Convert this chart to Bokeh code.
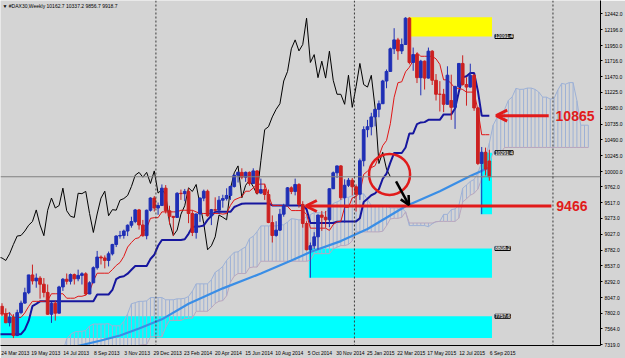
import datetime as dt
from bokeh.plotting import figure
from bokeh.models import (Range1d, FixedTicker, Span, Label, Arrow, OpenHead,
                          ColumnDataSource, NumeralTickFormatter)
from bokeh.embed import file_html
from bokeh.resources import INLINE

# ---------------- data ----------------
header_text = "\u25BC #DAX30,Weekly  10162.7 10337.2 9856.7 9918.7"
start_date = dt.date(2013, 3, 24)   # bar 0 (weekly bars)

# 62 weekly bars before the first visible bar (needed by the Ichimoku windows)
pre_high = [6420, 6540, 6790, 6860, 6870, 6980, 6960, 6940, 7194, 7150, 7080, 7000, 6830, 6850, 6810, 6800,
            6600, 6600, 6430, 6390, 6200, 6340, 6420, 6440, 6600, 6580, 6710, 6730, 6880, 6970, 7020, 7080,
            7000, 7240, 7420, 7480, 7390, 7430, 7400, 7460, 7350, 7400, 7420, 7180, 7330, 7430, 7560, 7620,
            7680, 7680, 7780, 7760, 7740, 7870, 7850, 7800, 7730, 7760, 7780, 8000, 8060, 8000]
pre_low = [6130, 6350, 6400, 6650, 6620, 6790, 6800, 6610, 6880, 6920, 6850, 6760, 6550, 6550, 6520, 6540,
           6420, 6240, 6210, 6030, 5920, 6060, 6160, 6080, 6390, 6380, 6520, 6320, 6620, 6830, 6880, 6900,
           6830, 6880, 7150, 7300, 7160, 7200, 7180, 7230, 7080, 7160, 7120, 6900, 6970, 7270, 7340, 7480,
           7560, 7600, 7600, 7650, 7630, 7690, 7700, 7530, 7590, 7570, 7560, 7680, 7920, 7880]

opens = [7912, 7795, 7658, 7744, 7459, 7814, 7962, 8123, 8398, 8306, 8349, 8254, 8127, 7789, 7959, 7806,
         8212, 8331, 8300, 8403, 8338, 8391, 8416, 8103, 8276, 8510, 8675, 8661, 8622, 8725, 8870, 9001,
         9009, 9078, 9168, 9225, 9405, 9172, 9006, 9400, 9589, 9435, 9473, 9742, 9392, 9306, 9289, 9663,
         9657, 9692, 9350, 9056, 9342, 9588, 9695, 9315, 9409, 9401, 9556, 9581, 9629, 9768, 9943, 9987,
         9912, 9987, 9815, 10009, 9666, 9720, 9644, 9210, 9009, 9092, 9339, 9470, 9747, 9691, 9799, 9490,
         9195, 8788, 8850, 8988, 9326, 9291, 9252, 9733, 9980, 10087, 9594, 9787, 9865, 9764, 9648, 10167,
         10649, 10694, 10846, 10963, 11050, 11402, 11550, 11901, 12039, 11868, 11967, 12375, 11689, 11811, 11454, 11709,
         11447, 11864, 11413, 11197, 11196, 11041, 11100, 10994, 11315, 11674, 11347, 11308, 11490, 10985, 10124, 10298,
         10162.7]
highs = [7960, 7880, 7820, 7790, 7860, 8000, 8200, 8400, 8558, 8420, 8380, 8350, 8250, 7980, 8000, 8230,
         8350, 8420, 8420, 8420, 8480, 8440, 8440, 8300, 8530, 8770, 8700, 8700, 8760, 8880, 9010, 9080,
         9100, 9180, 9300, 9420, 9420, 9250, 9410, 9600, 9620, 9520, 9800, 9790, 9470, 9310, 9680, 9720,
         9730, 9740, 9400, 9350, 9600, 9720, 9720, 9420, 9600, 9620, 9640, 9740, 9780, 9950, 10000, 10050,
         10000, 10000, 10050, 10020, 9890, 9810, 9720, 9320, 9230, 9420, 9500, 9760, 9770, 9890, 9820, 9540,
         9230, 8900, 9060, 9330, 9390, 9390, 9740, 10000, 10090, 10100, 9880, 9900, 9900, 9800, 10200, 10700,
         10800, 10910, 10970, 11100, 11420, 11580, 11920, 12220, 12070, 12060, 12390, 12390, 11920, 11840, 11730, 11720,
         11920, 11880, 11510, 11400, 11280, 11630, 11500, 11330, 11680, 11800, 11460, 11670, 11510, 11000, 10380, 10370,
         10337.2]
lows = [7760, 7650, 7600, 7420, 7450, 7790, 7950, 8100, 8250, 8200, 8030, 8050, 7780, 7655, 7690, 7800,
        8150, 8250, 8250, 8250, 8300, 8250, 8080, 8100, 8270, 8480, 8560, 8500, 8530, 8700, 8830, 8960,
        8960, 9000, 9130, 9200, 9100, 8990, 8950, 9380, 9380, 9330, 9470, 9350, 9180, 9000, 9280, 9560,
        9540, 9200, 9000, 8960, 9220, 9540, 9300, 9170, 9380, 9340, 9440, 9550, 9560, 9750, 9830, 9880,
        9840, 9780, 9810, 9660, 9650, 9560, 9200, 8900, 8990, 9080, 9300, 9460, 9650, 9630, 9440, 9130,
        8780, 8355, 8800, 8790, 9080, 9130, 9140, 9730, 9900, 9560, 9210, 9760, 9630, 9380, 9560, 10080,
        10530, 10560, 10700, 10840, 11050, 11290, 11550, 11820, 11730, 11820, 11960, 11660, 11560, 11370, 11180, 11270,
        11440, 11340, 11100, 10930, 10920, 11040, 10800, 10660, 11300, 11330, 11020, 11300, 10940, 10100, 9340, 9940,
        9856.7]
closes = [7795, 7658, 7744, 7459, 7814, 7962, 8123, 8398, 8306, 8349, 8254, 8127, 7789, 7959, 7806, 8212,
          8331, 8300, 8403, 8338, 8391, 8416, 8103, 8276, 8510, 8675, 8661, 8622, 8725, 8870, 9001, 9009,
          9078, 9168, 9225, 9405, 9172, 9006, 9400, 9589, 9435, 9473, 9742, 9392, 9306, 9289, 9663, 9657,
          9692, 9350, 9056, 9342, 9588, 9695, 9315, 9409, 9401, 9556, 9581, 9629, 9768, 9943, 9987, 9912,
          9987, 9815, 10009, 9666, 9720, 9644, 9210, 9009, 9092, 9339, 9470, 9747, 9691, 9799, 9490, 9195,
          8788, 8850, 8988, 9326, 9291, 9252, 9733, 9980, 10087, 9594, 9787, 9865, 9764, 9648, 10167, 10649,
          10694, 10846, 10963, 11050, 11402, 11550, 11901, 12039, 11868, 11967, 12375, 11689, 11811, 11454, 11709, 11447,
          11864, 11413, 11197, 11196, 11041, 11492, 10994, 11315, 11674, 11347, 11308, 11490, 10985, 10124, 10298, 10038,
          9918.7]

# long moving average (light blue), read at sample bars
ma_bar = [18, 26, 31, 36, 42, 49, 58, 68, 76, 81, 89, 96, 106, 115, 123, 128]
ma_val = [7270, 7382, 7459, 7567, 7710, 7952, 8190, 8420, 8620, 8753, 8922, 9110, 9461, 9695, 9930, 10062]

# rectangles drawn on the chart
rect_left = [-5, 80.6, 125.7, 106.8]
rect_bottom = [7420, 8355, 9338, 12091.4]
rect_top = [7757.6, 8808.2, 10291.4, 12390]
rect_color = ["#00ffff", "#00ffff", "#00ffff", "#ffff00"]
rect_label = ["7757.6", "8808.2", "10291.4", "12091.4"]
rect_label_price = [7757.6, 8808.2, 10291.4, 12091.4]
rect_right_edge = 128.7

x_tick_bars = [0, 8, 16, 24, 32, 40, 48, 56, 64, 72, 80, 88, 96, 104, 112, 120, 128]
x_tick_labels = ["24 Mar 2013", "19 May 2013", "14 Jul 2013", "8 Sep 2013", "3 Nov 2013", "29 Dec 2013",
                 "23 Feb 2014", "20 Apr 2014", "15 Jun 2014", "10 Aug 2014", "5 Oct 2014", "30 Nov 2014",
                 "25 Jan 2015", "22 Mar 2015", "17 May 2015", "12 Jul 2015", "6 Sep 2015"]
y_ticks = [12442, 12196, 11950, 11716, 11470, 11225, 10980, 10735, 10490, 10245, 10000, 9762,
           9517, 9273, 9027, 8782, 8537, 8292, 8047, 7802, 7564, 7319]

last_price = 9918.7
kijun_mark = 10865
ma_mark = 9466
year_starts = [dt.date(2014, 1, 1), dt.date(2015, 1, 1), dt.date(2016, 1, 1)]

# ---------------- indicators (Ichimoku 9/26/52) ----------------
n = len(closes)
pn = len(pre_high)
all_high = pre_high + highs
all_low = pre_low + lows


def midpoint(period, i):
    k = i + pn
    return (max(all_high[k - period + 1:k + 1]) + min(all_low[k - period + 1:k + 1])) / 2.0


line_bars = list(range(-1, n))
tenkan = [midpoint(9, i) for i in line_bars]
kijun = [midpoint(26, i) for i in line_bars]
cloud_src = list(range(-11, n))
cloud_x = [i + 26 for i in cloud_src]
span_a = [(midpoint(9, i) + midpoint(26, i)) / 2.0 for i in cloud_src]
span_b = [midpoint(52, i) for i in cloud_src]
chikou_x = [i - 26 for i in range(n)]

# ---------------- figure ----------------
bg = "#d4d4d4"
bull = "#1f2fb5"
bear = "#cc2020"
FONT = "Liberation Sans"

p = figure(width=625, height=358, x_range=Range1d(-0.39, 157.2), y_range=Range1d(7305, 12649),
           y_axis_location="right", toolbar_location=None, output_backend="svg",
           background_fill_color=bg, border_fill_color=bg, outline_line_color=None,
           min_border_left=0, min_border_top=0, min_border_right=0, min_border_bottom=0)
p.xgrid.visible = False
p.ygrid.visible = False

# rectangles
p.quad(left=rect_left, right=[rect_right_edge] * 4, bottom=rect_bottom, top=rect_top,
       fill_color=rect_color, line_color=None)

# cloud hatch
p.segment(x0=cloud_x, y0=span_a, x1=cloud_x, y1=span_b, line_color="#9db1d6", line_width=1)
p.line(cloud_x, span_a, line_color="#9db1d6", line_width=1)
p.line(cloud_x, span_b, line_color="#b9a6bd", line_width=1)

# moving average
p.line(ma_bar, ma_val, line_color="#3a8ee6", line_width=2.2)

# last price line
p.add_layout(Span(location=last_price, dimension="width", line_color="#808080", line_width=1))

# year separators
for d in year_starts:
    p.add_layout(Span(location=(d - start_date).days / 7.0, dimension="height",
                      line_color="#3a3a3a", line_width=1, line_dash="2 2"))

# chikou, kijun, tenkan
p.line(chikou_x, closes, line_color="#000000", line_width=1)
p.line(line_bars, kijun, line_color="#16169e", line_width=2)
p.line(line_bars, tenkan, line_color="#e01616", line_width=1)

# candles
bars = list(range(n))
src = ColumnDataSource(dict(
    x=bars, o=opens, h=highs, l=lows, c=closes,
    top=[max(o, c) for o, c in zip(opens, closes)],
    bot=[min(o, c) for o, c in zip(opens, closes)],
    col=[bull if c >= o else bear for o, c in zip(opens, closes)]))
p.segment(x0="x", y0="l", x1="x", y1="h", source=src, line_color="col", line_width=1)
p.vbar(x="x", width=0.72, top="top", bottom="bot", source=src, fill_color="col", line_color="col")

# annotations: arrows, circle, labels
red = "#e11b1b"
p.add_layout(Arrow(end=OpenHead(size=11, line_color=red, line_width=3),
                   x_start=143.6, y_start=kijun_mark, x_end=129.8, y_end=kijun_mark,
                   line_color=red, line_width=3))
p.add_layout(Arrow(end=OpenHead(size=11, line_color=red, line_width=3),
                   x_start=144.3, y_start=ma_mark, x_end=79.8, y_end=ma_mark,
                   line_color=red, line_width=3))
p.add_layout(Arrow(end=OpenHead(size=9, line_color="#000000", line_width=2.5),
                   x_start=103.5, y_start=9846, x_end=106.9, y_end=9480,
                   line_color="#000000", line_width=2.5))
p.scatter([101.8], [9954], marker="circle", size=41, fill_alpha=0, line_color=red, line_width=2.5)

p.add_layout(Label(x=145.4, y=kijun_mark, text=str(kijun_mark), text_color=red, text_font=FONT,
                   text_font_size="14px", text_font_style="bold", text_baseline="middle"))
p.add_layout(Label(x=145.6, y=ma_mark, text=str(ma_mark), text_color=red, text_font=FONT,
                   text_font_size="14px", text_font_style="bold", text_baseline="middle"))

for txt, pr in zip(rect_label, rect_label_price):
    p.add_layout(Label(x=rect_right_edge, y=pr, x_offset=3, text=txt, text_color="#ffffff",
                       text_font=FONT, text_font_size="5px", text_baseline="middle",
                       background_fill_color="#4a4a4a", border_line_color="#000000"))

p.add_layout(Label(x=157.2, y=last_price, x_offset=1, text=f"{last_price:.1f}", text_color="#ffffff",
                   text_font=FONT, text_font_size="5px", text_baseline="middle",
                   background_fill_color="#000000"))

p.add_layout(Label(x=-0.39, y=12649, x_offset=2, y_offset=-2, text=header_text, text_color="#000000",
                   text_font=FONT, text_font_size="5px", text_baseline="top"))

# axes
for ax in (p.xaxis[0], p.yaxis[0]):
    ax.axis_line_color = "#000000"
    ax.major_tick_line_color = "#000000"
    ax.major_tick_in = 0
    ax.major_tick_out = 2
    ax.minor_tick_line_color = None
    ax.major_label_standoff = 2
    ax.major_label_text_font = FONT
    ax.major_label_text_font_size = "5px"
    ax.major_label_text_color = "#000000"

p.yaxis.ticker = FixedTicker(ticks=y_ticks)
p.yaxis.formatter = NumeralTickFormatter(format="0.0")

# MetaTrader writes each date label starting at its bar, so the label centre sits
# about half a label width (3.5 bars) to the right of the bar
label_pos = [b + 3.5 for b in x_tick_bars]
p.xaxis.ticker = FixedTicker(ticks=label_pos)
p.xaxis.major_label_overrides = {pos: t for pos, t in zip(label_pos, x_tick_labels)}
p.xaxis.major_tick_line_color = None

open("out.html", "w").write(file_html(p, INLINE))
